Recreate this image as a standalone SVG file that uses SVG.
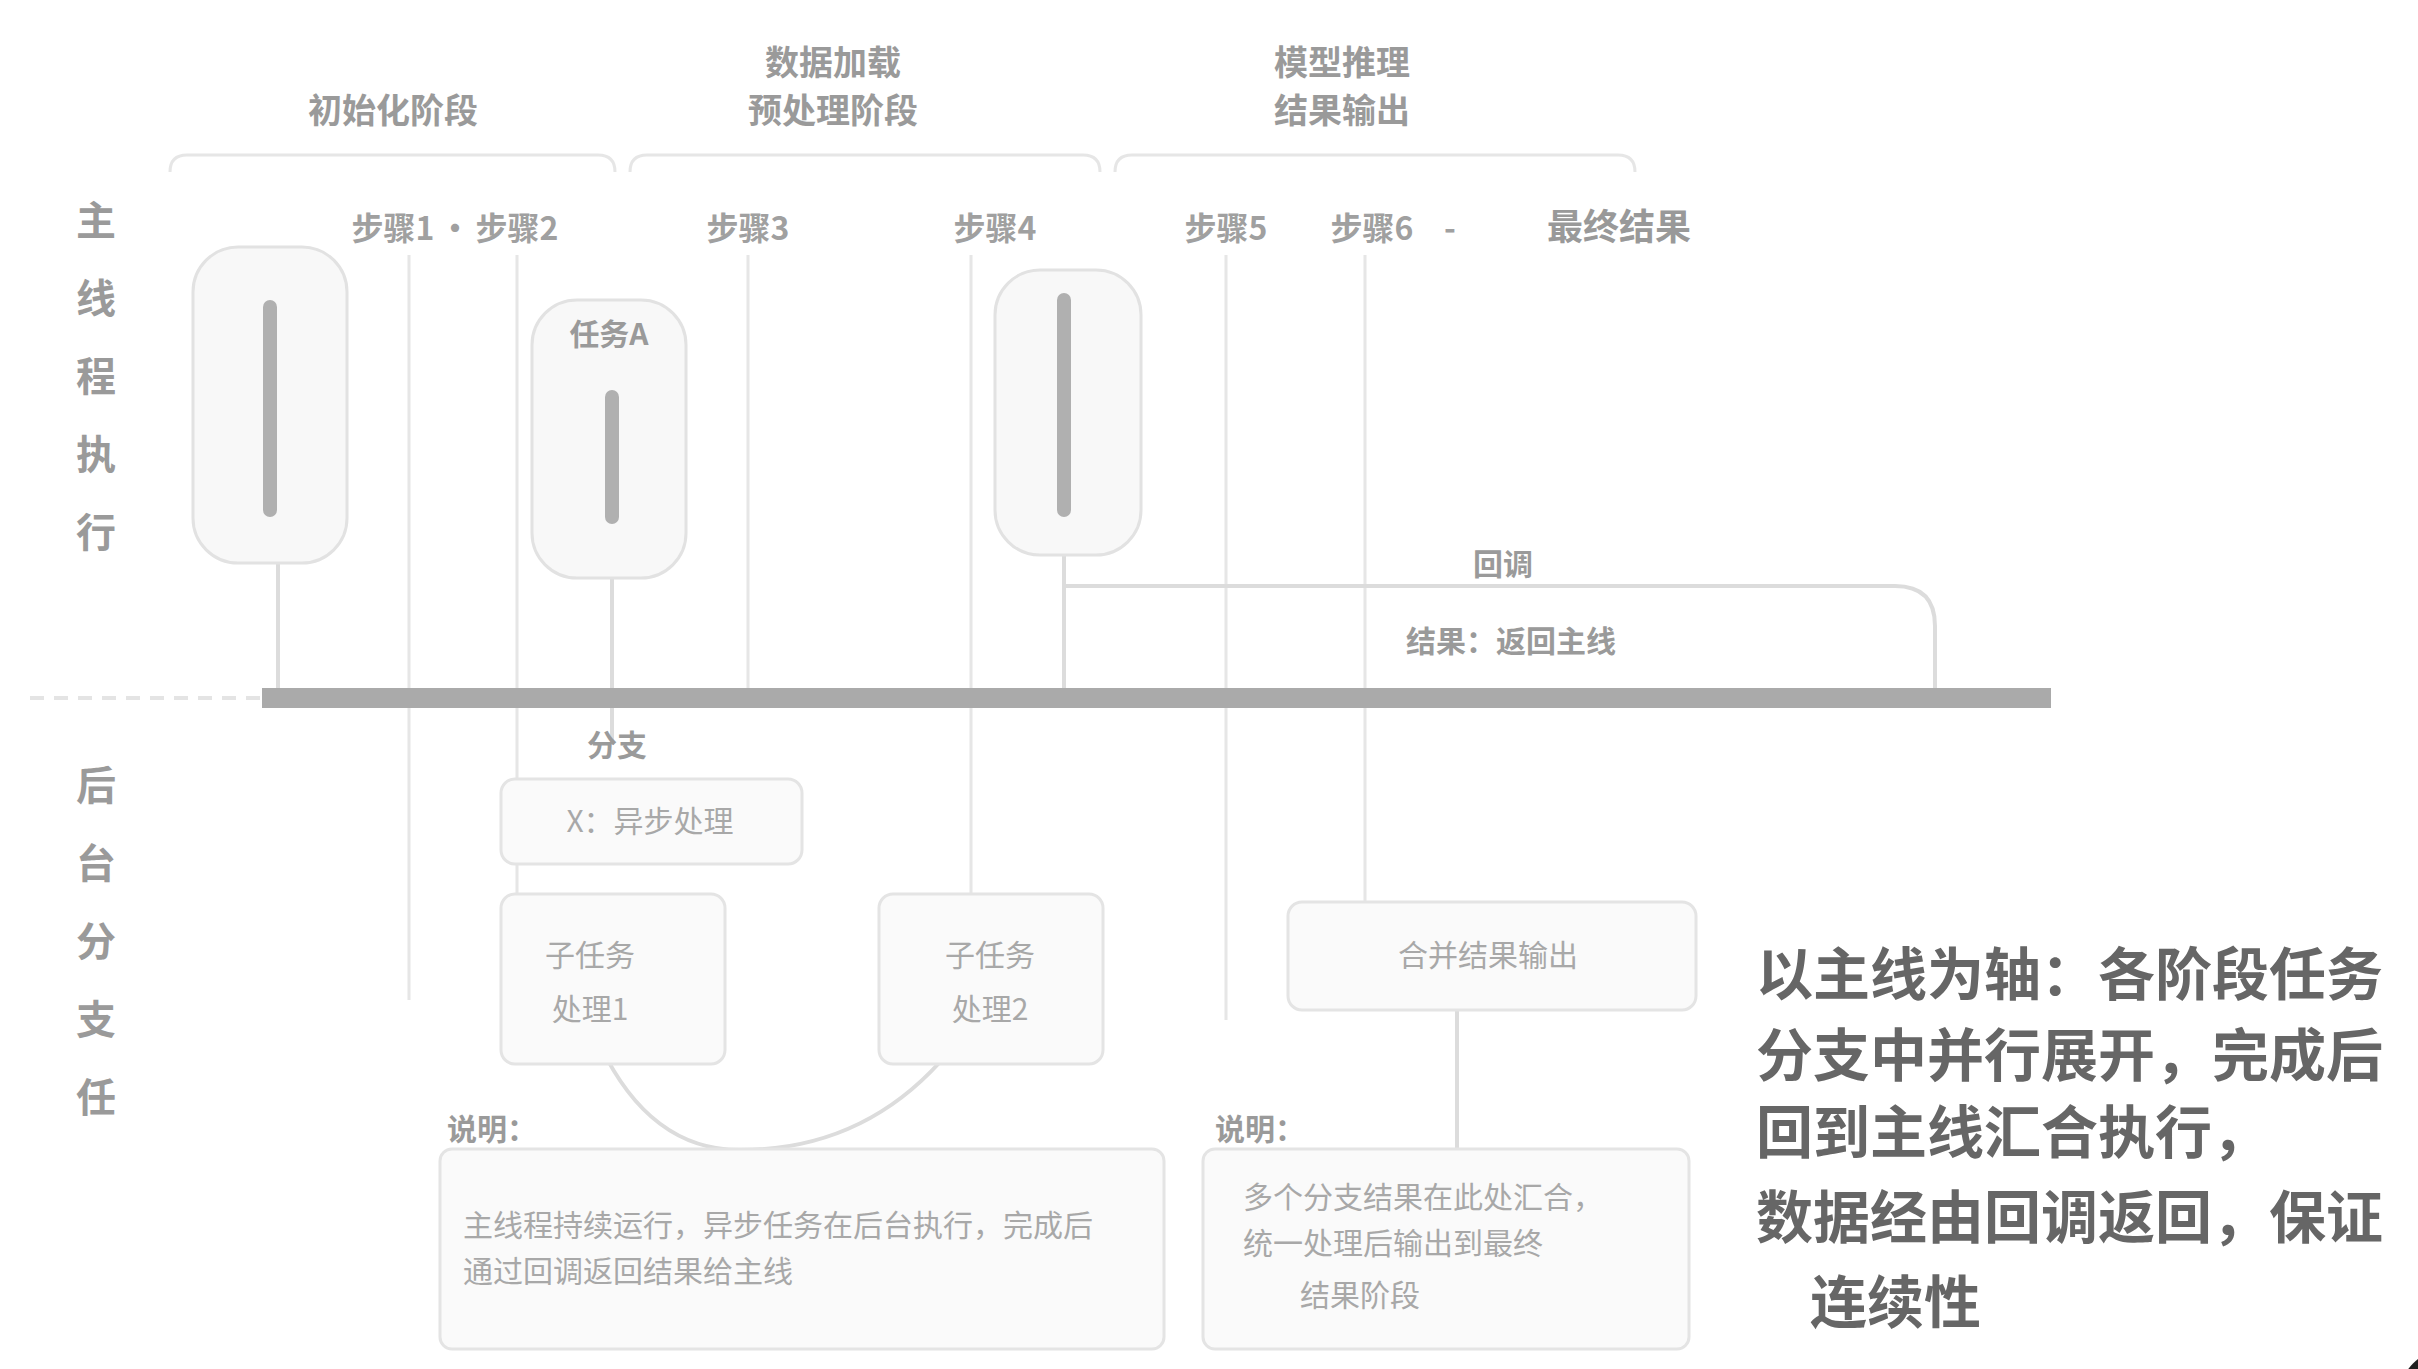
<svg xmlns="http://www.w3.org/2000/svg" width="2418" height="1369" viewBox="0 0 2418 1369">
<defs>
<style>
text{font-family:"Noto Sans CJK SC","Noto Sans",sans-serif;fill:#8a8a8a}
.hd{font-size:34px;fill:#9a9a9a;text-anchor:middle;font-weight:bold}
.col{font-size:32px;fill:#a0a0a0;text-anchor:middle;font-weight:bold}
.lbl{font-size:30px;fill:#9a9a9a;font-weight:bold}
.txt{font-size:30px;fill:#a8a8a8}
.ctr{text-anchor:middle}
.vert{font-size:40px;fill:#9a9a9a;font-weight:bold;writing-mode:vertical-rl;letter-spacing:38px}
.big{font-size:57px;fill:#666;font-weight:bold}
.cap{fill:#f8f8f8;stroke:#e2e2e2;stroke-width:3}
.box{fill:#fafafa;stroke:#e4e4e4;stroke-width:3}
.bar{fill:#b0b0b0}
.thin{stroke:#e6e6e6;stroke-width:3;fill:none}
.conn{stroke:#dcdcdc;stroke-width:4;fill:none}
</style>
</defs>
<rect width="2418" height="1369" fill="#ffffff"/>

<!-- group brackets -->
<g id="brackets">
<path class="thin" d="M170 172 Q170 155 187 155 H598 Q615 155 615 172"/>
<path class="thin" d="M630 172 Q630 155 647 155 H1083 Q1100 155 1100 172"/>
<path class="thin" d="M1115 172 Q1115 155 1132 155 H1618 Q1635 155 1635 172"/>
</g>

<!-- headers -->
<g id="header1"><text class="hd" x="393" y="123">初始化阶段</text></g>
<g id="header2"><text class="hd" x="833" y="75">数据加载</text><text class="hd" x="833" y="123">预处理阶段</text></g>
<g id="header3"><text class="hd" x="1342" y="75">模型推理</text><text class="hd" x="1342" y="123">结果输出</text></g>

<!-- column labels -->
<g id="columns">
<text class="col" x="393" y="240">步骤1</text>
<text class="col" x="455" y="240">·</text>
<text class="col" x="517" y="240">步骤2</text>
<text class="col" x="748" y="240">步骤3</text>
<text class="col" x="995" y="240">步骤4</text>
<text class="col" x="1226" y="240">步骤5</text>
<text class="col" x="1372" y="240">步骤6</text>
<text class="col" x="1450" y="240">-</text>
<text class="col" x="1619" y="240" style="font-size:36px;fill:#999">最终结果</text>
</g>

<!-- side labels -->
<g id="side-top"><text class="vert" x="96" y="200">主线程执行</text></g>
<g id="side-bottom"><text class="vert" x="96" y="765">后台分支任</text></g>

<!-- connectors -->
<g id="connectors">
<path class="thin" d="M409 255 V1000"/>
<path class="thin" d="M517 255 V1000"/>
<path class="thin" d="M748 255 V690"/>
<path class="thin" d="M971 255 V894"/>
<path class="thin" d="M1226 255 V1020"/>
<path class="thin" d="M1365 255 V902"/>
<path class="conn" d="M278 563 V698"/>
<path class="conn" d="M612 578 V745"/>
<path class="conn" d="M1064 555 V698"/>
<path class="conn" d="M1064 586 H1895 Q1935 586 1935 626 V690"/>
<path d="M30 698 H262" stroke="#e4e4e4" stroke-width="4" stroke-dasharray="14 10" fill="none"/>
<path class="conn" d="M600 1045 Q650 1150 740 1150 Q860 1150 940 1062"/>
<path class="conn" d="M1457 1010 V1170"/>
</g>

<!-- bus -->
<g id="bus"><rect x="262" y="688" width="1789" height="20" fill="#aaaaaa"/></g>

<!-- capsules -->
<g id="capsule1"><rect class="cap" x="193" y="247" width="154" height="316" rx="45"/><rect class="bar" x="263" y="300" width="14" height="217" rx="7"/></g>
<g id="capsule2"><rect class="cap" x="532" y="300" width="154" height="278" rx="45"/><text class="lbl ctr" x="609" y="345">任务A</text><rect class="bar" x="605" y="390" width="14" height="134" rx="7"/></g>
<g id="capsule3"><rect class="cap" x="995" y="270" width="146" height="285" rx="45"/><rect class="bar" x="1057" y="293" width="14" height="224" rx="7"/></g>

<g id="callback-labels">
<text class="lbl ctr" x="1503" y="575">回调</text>
<text class="lbl ctr" x="1511" y="652">结果：返回主线</text>
</g>

<!-- lower nodes -->
<g id="branch-label"><text class="lbl ctr" x="617" y="756">分支</text></g>
<g id="async-box"><rect class="box" x="501" y="779" width="301" height="85" rx="14"/><text class="txt ctr" x="650" y="832">X：异步处理</text></g>
<g id="task-a"><rect class="box" x="501" y="894" width="224" height="170" rx="14"/><text class="txt ctr" x="590" y="966">子任务</text><text class="txt ctr" x="590" y="1020">处理1</text></g>
<g id="task-b"><rect class="box" x="879" y="894" width="224" height="170" rx="14"/><text class="txt ctr" x="990" y="966">子任务</text><text class="txt ctr" x="990" y="1020">处理2</text></g>
<g id="merge"><rect class="box" x="1288" y="902" width="408" height="108" rx="14"/><text class="txt ctr" x="1488" y="966">合并结果输出</text></g>

<g id="note1">
<text class="lbl" x="447" y="1140">说明：</text>
<rect class="box" x="440" y="1149" width="724" height="200" rx="12"/>
<text class="txt" x="463" y="1236">主线程持续运行，异步任务在后台执行，完成后</text>
<text class="txt" x="463" y="1282">通过回调返回结果给主线</text>
</g>
<g id="note2">
<text class="lbl" x="1215" y="1140">说明：</text>
<rect class="box" x="1203" y="1149" width="486" height="200" rx="12"/>
<text class="txt" x="1243" y="1208">多个分支结果在此处汇合，</text>
<text class="txt" x="1243" y="1254">统一处理后输出到最终</text>
<text class="txt" x="1300" y="1306">结果阶段</text>
</g>

<!-- summary -->
<g id="summary">
<text class="big" x="1756" y="995">以主线为轴：各阶段任务</text>
<text class="big" x="1756" y="1076">分支中并行展开，完成后</text>
<text class="big" x="1756" y="1153">回到主线汇合执行，</text>
<text class="big" x="1756" y="1238">数据经由回调返回，保证</text>
<text class="big" x="1810" y="1323">连续性</text>
</g>

<g id="corner-mark"><circle cx="2450" cy="1400" r="52" fill="#1e1e1e"/><circle cx="2450" cy="1400" r="38" fill="none" stroke="#f4f4ec" stroke-width="5"/></g>
</svg>
